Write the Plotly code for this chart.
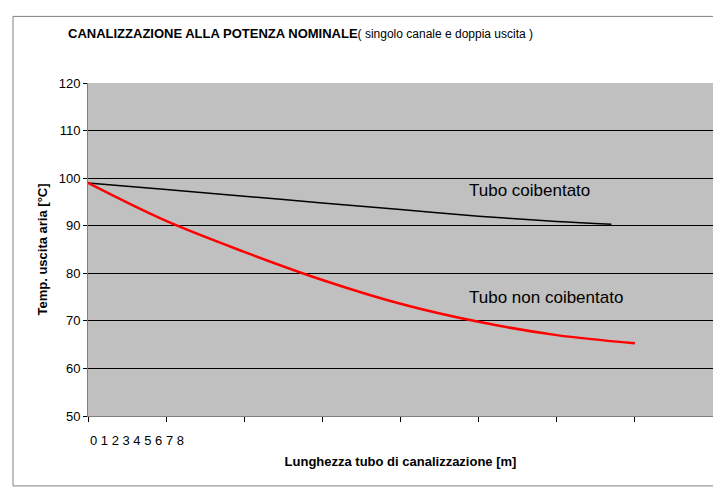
import plotly.graph_objects as go

x_red = [0, 1, 2, 3, 4, 5, 6, 7]
y_red = [99, 91, 84.5, 78.6, 73.6, 69.8, 67.0, 65.3]
x_blk = [0, 1, 2, 3, 4, 5, 6, 6.7]
y_blk = [99, 97.6, 96.2, 94.8, 93.4, 92.0, 90.9, 90.3]
tick_labels = "0 1 2 3 4 5 6 7 8"

fig = go.Figure()
fig.add_trace(go.Scatter(x=x_blk, y=y_blk, mode="lines", line=dict(color="black", width=1.5, shape="spline")))
fig.add_trace(go.Scatter(x=x_red, y=y_red, mode="lines", line=dict(color="#ff0000", width=2.5, shape="spline")))
fig.update_layout(
    width=721, height=487, showlegend=False, paper_bgcolor="white", plot_bgcolor="#c0c0c0",
    margin=dict(l=80, r=16, t=75, b=79, autoexpand=False),
    font=dict(family="Liberation Sans, Arial", color="black"),
    xaxis=dict(range=[0, 8], tickvals=list(range(9)), showticklabels=False, ticks="outside",
               ticklen=5, tickcolor="black", showgrid=False, showline=True, linecolor="#808080", zeroline=False,
               automargin=False,
               title=dict(text="<b>Lunghezza tubo di canalizzazione [m]</b>", font=dict(size=13), standoff=35)),
    yaxis=dict(range=[50, 120], dtick=10, ticks="outside", ticklen=4, tickcolor="black", automargin=False,
               gridcolor="black", gridwidth=1, showline=True, linecolor="#808080", zeroline=False,
               tickfont=dict(size=13),
               title=dict(text="<b>Temp. uscita aria [°C]</b>", font=dict(size=13), standoff=8)),
    annotations=[
        dict(xref="paper", yref="paper", x=0.0, y=-0.045, xanchor="left", yanchor="top", showarrow=False,
             text=tick_labels, font=dict(size=13)),
        dict(x=4.85, y=97.5, text="Tubo coibentato", showarrow=False, xanchor="left", font=dict(size=17)),
        dict(x=4.85, y=75, text="Tubo non coibentato", showarrow=False, xanchor="left", font=dict(size=17)),
        dict(xref="paper", yref="paper", x=-0.035, y=1.12, xanchor="left", yanchor="bottom", showarrow=False,
             text="<b>CANALIZZAZIONE ALLA POTENZA NOMINALE</b><span style='font-size:12px'>( singolo canale e doppia uscita )</span>",
             font=dict(size=13)),
    ],
    shapes=[dict(type="rect", xref="paper", yref="paper", x0=-0.12, x1=1.016, y0=-0.21, y1=1.2,
                 line=dict(color="#808080", width=1))],
)
fig.write_html("out.html")
